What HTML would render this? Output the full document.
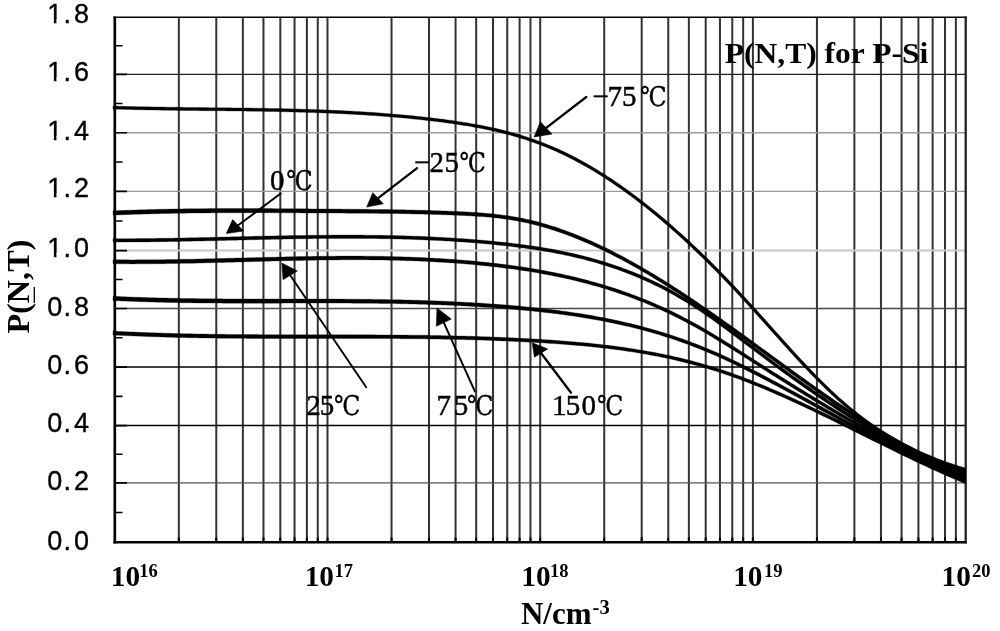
<!DOCTYPE html>
<html><head><meta charset="utf-8"><title>P(N,T) for P-Si</title>
<style>html,body{margin:0;padding:0;background:#fff;overflow:hidden}svg{display:block}</style>
</head><body>
<svg width="1000" height="631" viewBox="0 0 1000 631">
<rect width="1000" height="631" fill="#fff"/>
<path d="M178.83,17.2V542.2M216.28,17.2V542.2M242.86,17.2V542.2M263.47,17.2V542.2M280.31,17.2V542.2M294.55,17.2V542.2M306.89,17.2V542.2M317.77,17.2V542.2M391.53,17.2V542.2M428.98,17.2V542.2M455.56,17.2V542.2M476.17,17.2V542.2M493.01,17.2V542.2M507.25,17.2V542.2M519.59,17.2V542.2M530.47,17.2V542.2M604.23,17.2V542.2M641.68,17.2V542.2M668.26,17.2V542.2M688.87,17.2V542.2M705.71,17.2V542.2M719.95,17.2V542.2M732.29,17.2V542.2M743.17,17.2V542.2M816.93,17.2V542.2M854.38,17.2V542.2M880.96,17.2V542.2M901.57,17.2V542.2M918.41,17.2V542.2M932.65,17.2V542.2M944.99,17.2V542.2M955.87,17.2V542.2M327.50,17.2V542.2M540.20,17.2V542.2M752.90,17.2V542.2" stroke="#333" stroke-width="2.0" fill="none"/>
<path d="M178.83,537.6V542.2M216.28,537.6V542.2M242.86,537.6V542.2M263.47,537.6V542.2M280.31,537.6V542.2M294.55,537.6V542.2M306.89,537.6V542.2M317.77,537.6V542.2M391.53,537.6V542.2M428.98,537.6V542.2M455.56,537.6V542.2M476.17,537.6V542.2M493.01,537.6V542.2M507.25,537.6V542.2M519.59,537.6V542.2M530.47,537.6V542.2M604.23,537.6V542.2M641.68,537.6V542.2M668.26,537.6V542.2M688.87,537.6V542.2M705.71,537.6V542.2M719.95,537.6V542.2M732.29,537.6V542.2M743.17,537.6V542.2M816.93,537.6V542.2M854.38,537.6V542.2M880.96,537.6V542.2M901.57,537.6V542.2M918.41,537.6V542.2M932.65,537.6V542.2M944.99,537.6V542.2M955.87,537.6V542.2M327.50,537.6V542.2M540.20,537.6V542.2M752.90,537.6V542.2" stroke="#000" stroke-width="2.0" fill="none"/>
<path d="M114.8,74.40H965.7" stroke="#222" stroke-width="1.3"/>
<path d="M114.8,132.70H965.7" stroke="#999" stroke-width="1.4"/>
<path d="M114.8,191.40H965.7" stroke="#999" stroke-width="1.4"/>
<path d="M114.8,250.60H965.7" stroke="#c8c8c8" stroke-width="2.0"/>
<path d="M114.8,308.50H965.7" stroke="#4a4a4a" stroke-width="1.4"/>
<path d="M114.8,367.10H965.7" stroke="#000" stroke-width="1.5"/>
<path d="M114.8,425.60H965.7" stroke="#000" stroke-width="1.5"/>
<path d="M114.8,482.90H965.7" stroke="#555" stroke-width="1.4"/>
<path d="M114.8,512.55H122.5M114.8,482.90H127.0M114.8,454.25H122.5M114.8,425.60H127.0M114.8,396.35H122.5M114.8,367.10H127.0M114.8,337.80H122.5M114.8,308.50H127.0M114.8,279.55H122.5M114.8,250.60H127.0M114.8,221.00H122.5M114.8,191.40H127.0M114.8,162.05H122.5M114.8,132.70H127.0M114.8,103.55H122.5M114.8,74.40H127.0M114.8,45.80H122.5" stroke="#000" stroke-width="1.6" fill="none"/>
<path d="M113.4,17.2H966.9" stroke="#000" stroke-width="1.5"/>
<path d="M113.4,542.2H966.9" stroke="#000" stroke-width="2.6"/>
<path d="M114.8,16.4V543.5" stroke="#000" stroke-width="2.7"/>
<path d="M965.7,16.4V543.5" stroke="#222" stroke-width="2.3"/>
<path d="M112.95,109.11L115.95,109.20L118.96,109.29L121.96,109.37L124.96,109.45L127.96,109.53L130.96,109.60L133.97,109.67L136.97,109.73L139.97,109.80L142.97,109.86L145.97,109.91L148.97,109.97L151.97,110.02L154.97,110.07L157.98,110.12L160.98,110.17L163.98,110.21L166.98,110.25L169.98,110.30L172.98,110.33L175.98,110.37L178.98,110.41L181.98,110.44L184.98,110.48L187.98,110.51L190.98,110.54L193.98,110.57L196.98,110.61L199.98,110.64L202.98,110.67L205.98,110.70L208.98,110.72L211.98,110.75L214.98,110.78L217.98,110.81L220.98,110.84L223.98,110.87L226.98,110.90L229.98,110.94L232.98,110.97L235.98,111.00L238.98,111.04L241.98,111.07L244.98,111.11L247.98,111.15L250.98,111.19L253.98,111.23L256.98,111.27L259.98,111.32L262.98,111.36L265.97,111.41L268.97,111.47L271.97,111.52L274.97,111.58L277.97,111.64L280.97,111.70L283.97,111.76L286.96,111.83L289.96,111.90L292.96,111.97L295.96,112.05L298.96,112.13L301.96,112.22L304.95,112.30L307.95,112.39L310.95,112.49L313.95,112.59L316.95,112.69L319.94,112.80L322.94,112.91L325.94,113.03L328.94,113.15L331.93,113.28L334.93,113.41L337.93,113.54L340.93,113.69L343.92,113.83L346.92,113.98L349.92,114.14L352.92,114.30L355.91,114.47L358.91,114.65L361.91,114.83L364.90,115.01L367.90,115.20L370.90,115.40L373.89,115.61L376.89,115.82L379.89,116.04L382.88,116.26L385.88,116.50L388.88,116.73L391.87,116.98L394.87,117.23L397.87,117.49L400.86,117.76L403.86,118.04L406.85,118.32L409.85,118.61L412.85,118.91L415.84,119.22L418.84,119.53L421.83,119.86L424.83,120.19L427.83,120.53L430.82,120.88L433.82,121.24L436.81,121.61L439.81,121.98L442.80,122.37L445.80,122.76L448.79,123.17L451.79,123.58L454.78,124.01L457.77,124.46L460.77,124.91L463.76,125.39L466.75,125.87L469.74,126.37L472.74,126.89L475.73,127.43L478.72,127.99L481.71,128.57L484.70,129.16L487.69,129.78L490.68,130.42L493.67,131.08L496.66,131.76L499.64,132.47L502.63,133.21L505.62,133.97L508.61,134.75L511.60,135.57L514.58,136.41L517.57,137.28L520.56,138.18L523.54,139.11L526.53,140.07L529.51,141.07L532.50,142.09L535.49,143.16L538.47,144.25L541.46,145.38L544.44,146.55L547.43,147.75L550.41,148.99L553.40,150.27L556.38,151.59L559.37,152.95L562.35,154.34L565.34,155.78L568.33,157.25L571.31,158.75L574.30,160.30L577.29,161.88L580.28,163.49L583.26,165.15L586.25,166.84L589.24,168.56L592.23,170.32L595.22,172.12L598.21,173.95L601.20,175.82L604.19,177.72L607.18,179.66L610.17,181.62L613.16,183.63L616.15,185.67L619.14,187.74L622.13,189.84L625.12,191.98L628.11,194.15L631.11,196.35L634.10,198.58L637.09,200.85L640.08,203.15L643.07,205.48L646.07,207.84L649.06,210.23L652.05,212.65L655.05,215.11L658.04,217.59L661.03,220.10L664.03,222.65L667.02,225.22L670.01,227.82L673.01,230.46L676.00,233.12L678.99,235.81L681.99,238.52L684.98,241.27L687.98,244.04L690.97,246.84L693.97,249.67L696.96,252.53L699.96,255.41L702.95,258.32L705.95,261.26L708.94,264.22L711.94,267.21L714.93,270.22L717.93,273.26L720.93,276.33L723.92,279.42L726.92,282.53L729.91,285.67L732.91,288.83L735.91,292.02L738.90,295.23L741.90,298.47L744.89,301.72L747.89,305.00L750.89,308.30L753.89,311.61L756.89,314.94L759.88,318.27L762.88,321.62L765.88,324.97L768.88,328.32L771.88,331.67L774.88,335.02L777.88,338.37L780.89,341.71L783.89,345.04L786.89,348.35L789.89,351.66L792.89,354.94L795.90,358.21L798.90,361.45L801.91,364.67L804.91,367.86L807.92,371.02L810.92,374.15L813.93,377.25L816.93,380.30L819.94,383.32L822.95,386.29L825.96,389.22L828.97,392.10L831.98,394.93L834.99,397.71L838.00,400.43L841.01,403.10L844.02,405.71L847.04,408.26L850.05,410.75L853.06,413.18L856.08,415.56L859.09,417.89L862.10,420.16L865.12,422.38L868.13,424.55L871.15,426.66L874.16,428.72L877.17,430.74L880.19,432.70L883.20,434.62L886.22,436.49L889.23,438.31L892.25,440.08L895.26,441.81L898.28,443.50L901.29,445.14L904.30,446.74L907.32,448.29L910.33,449.81L913.35,451.28L916.36,452.72L919.38,454.11L922.39,455.47L925.41,456.79L928.42,458.07L931.43,459.32L934.45,460.53L937.46,461.71L940.47,462.85L943.49,463.96L946.50,465.04L949.51,466.09L952.53,467.11L955.54,468.10L958.55,469.05L961.56,469.99L964.57,470.89L965.08,471.04L965.92,468.16L965.43,468.01L962.44,467.12L959.45,466.19L956.46,465.24L953.47,464.26L950.49,463.25L947.50,462.21L944.51,461.14L941.53,460.04L938.54,458.91L935.55,457.74L932.57,456.54L929.58,455.31L926.59,454.03L923.61,452.73L920.62,451.38L917.64,450.00L914.65,448.58L911.67,447.12L908.68,445.62L905.70,444.08L902.71,442.50L899.72,440.87L896.74,439.20L893.75,437.49L890.77,435.73L887.78,433.93L884.80,432.08L881.81,430.18L878.83,428.23L875.84,426.24L872.85,424.20L869.87,422.10L866.88,419.95L863.90,417.76L860.91,415.51L857.92,413.20L854.94,410.84L851.95,408.43L848.96,405.96L845.98,403.43L842.99,400.84L840.00,398.20L837.01,395.50L834.02,392.74L831.03,389.93L828.04,387.06L825.05,384.15L822.06,381.19L819.07,378.19L816.07,375.15L813.08,372.07L810.08,368.95L807.09,365.80L804.09,362.62L801.10,359.41L798.10,356.17L795.11,352.92L792.11,349.64L789.11,346.34L786.11,343.03L783.11,339.70L780.12,336.36L777.12,333.02L774.12,329.67L771.12,326.32L768.12,322.96L765.12,319.61L762.12,316.27L759.11,312.93L756.11,309.60L753.11,306.28L750.11,302.98L747.11,299.70L744.10,296.43L741.10,293.19L738.09,289.97L735.09,286.77L732.09,283.60L729.08,280.46L726.08,277.33L723.07,274.23L720.07,271.16L717.07,268.11L714.06,265.09L711.06,262.09L708.05,259.12L705.05,256.18L702.04,253.26L699.04,250.36L696.03,247.50L693.03,244.66L690.02,241.85L687.02,239.06L684.01,236.31L681.01,233.58L678.00,230.88L674.99,228.21L671.99,225.57L668.98,222.95L665.97,220.37L662.97,217.81L659.96,215.29L656.95,212.79L653.95,210.33L650.94,207.89L647.93,205.49L644.93,203.12L641.92,200.77L638.91,198.46L635.90,196.18L632.89,193.94L629.89,191.72L626.88,189.54L623.87,187.39L620.86,185.27L617.85,183.19L614.84,181.14L611.83,179.12L608.82,177.14L605.81,175.19L602.80,173.27L599.79,171.39L596.78,169.55L593.77,167.74L590.76,165.96L587.75,164.22L584.74,162.52L581.72,160.85L578.71,159.22L575.70,157.62L572.69,156.07L569.67,154.54L566.66,153.06L563.65,151.61L560.63,150.21L557.62,148.84L554.60,147.50L551.59,146.21L548.57,144.96L545.56,143.74L542.54,142.56L539.53,141.42L536.51,140.31L533.50,139.24L530.49,138.20L527.47,137.20L524.46,136.22L521.44,135.28L518.43,134.37L515.42,133.50L512.40,132.65L509.39,131.82L506.38,131.03L503.37,130.26L500.36,129.52L497.34,128.81L494.33,128.12L491.32,127.45L488.31,126.81L485.30,126.19L482.29,125.58L479.28,125.00L476.27,124.44L473.26,123.90L470.26,123.38L467.25,122.87L464.24,122.38L461.23,121.91L458.23,121.45L455.22,121.00L452.21,120.57L449.21,120.15L446.20,119.74L443.20,119.35L440.19,118.96L437.19,118.58L434.18,118.21L431.18,117.85L428.17,117.50L425.17,117.16L422.17,116.83L419.16,116.50L416.16,116.18L413.15,115.87L410.15,115.57L407.15,115.28L404.14,115.00L401.14,114.72L398.13,114.45L395.13,114.19L392.13,113.93L389.12,113.69L386.12,113.45L383.12,113.21L380.11,112.99L377.11,112.77L374.11,112.55L371.10,112.35L368.10,112.15L365.10,111.96L362.09,111.77L359.09,111.59L356.09,111.41L353.08,111.24L350.08,111.08L347.08,110.92L344.08,110.77L341.07,110.62L338.07,110.48L335.07,110.34L332.07,110.21L329.06,110.08L326.06,109.96L323.06,109.84L320.06,109.73L317.05,109.62L314.05,109.52L311.05,109.42L308.05,109.32L305.05,109.23L302.04,109.14L299.04,109.05L296.04,108.97L293.04,108.89L290.04,108.82L287.04,108.75L284.03,108.68L281.03,108.62L278.03,108.55L275.03,108.49L272.03,108.44L269.03,108.38L266.03,108.33L263.02,108.28L260.02,108.23L257.02,108.19L254.02,108.14L251.02,108.10L248.02,108.06L245.02,108.02L242.02,107.98L239.02,107.95L236.02,107.91L233.02,107.88L230.02,107.84L227.02,107.81L224.02,107.78L221.02,107.75L218.02,107.72L215.02,107.69L212.02,107.66L209.02,107.63L206.02,107.60L203.02,107.57L200.02,107.54L197.02,107.51L194.02,107.48L191.02,107.44L188.02,107.41L185.02,107.38L182.02,107.34L179.02,107.31L176.02,107.27L173.02,107.23L170.02,107.20L167.02,107.15L164.02,107.11L161.02,107.07L158.02,107.02L155.03,106.97L152.03,106.92L149.03,106.87L146.03,106.82L143.03,106.76L140.03,106.70L137.03,106.63L134.03,106.57L131.04,106.50L128.04,106.43L125.04,106.35L122.04,106.27L119.04,106.19L116.05,106.11L113.05,106.02Z" fill="#000" stroke="#000" stroke-width="0.3" stroke-linejoin="round"/>
<path d="M113.09,215.15L116.09,215.02L119.09,214.90L122.08,214.78L125.08,214.67L128.08,214.56L131.07,214.45L134.07,214.35L137.07,214.25L140.07,214.16L143.06,214.07L146.06,213.98L149.06,213.90L152.06,213.82L155.05,213.74L158.05,213.67L161.05,213.60L164.05,213.53L167.04,213.47L170.04,213.41L173.04,213.35L176.04,213.30L179.04,213.25L182.03,213.20L185.03,213.16L188.03,213.12L191.03,213.08L194.03,213.04L197.02,213.01L200.02,212.98L203.02,212.94L206.02,212.92L209.02,212.89L212.01,212.86L215.01,212.84L218.01,212.82L221.01,212.80L224.01,212.79L227.01,212.77L230.01,212.76L233.00,212.75L236.00,212.74L239.00,212.73L242.00,212.73L245.00,212.73L248.00,212.72L251.00,212.72L254.00,212.72L257.00,212.73L259.99,212.73L262.99,212.74L265.99,212.74L268.99,212.75L271.99,212.76L274.99,212.77L277.99,212.78L280.99,212.79L283.99,212.80L286.99,212.81L289.99,212.83L292.99,212.84L295.99,212.86L298.99,212.87L301.99,212.89L304.99,212.90L307.99,212.92L310.99,212.94L313.99,212.95L316.99,212.97L319.99,212.99L322.99,213.00L325.99,213.02L328.99,213.04L331.99,213.05L334.99,213.07L337.99,213.09L340.99,213.10L343.99,213.12L346.99,213.14L349.99,213.16L352.99,213.18L355.98,213.20L358.98,213.22L361.98,213.24L364.98,213.26L367.98,213.28L370.98,213.31L373.98,213.34L376.98,213.36L379.98,213.40L382.98,213.43L385.97,213.46L388.97,213.50L391.97,213.54L394.97,213.58L397.97,213.62L400.97,213.67L403.96,213.72L406.96,213.77L409.96,213.83L412.96,213.89L415.96,213.95L418.95,214.02L421.95,214.09L424.95,214.16L427.95,214.24L430.95,214.32L433.94,214.40L436.94,214.49L439.94,214.59L442.93,214.69L445.93,214.79L448.93,214.90L451.93,215.01L454.92,215.13L457.92,215.25L460.91,215.39L463.91,215.52L466.90,215.67L469.90,215.83L472.89,216.00L475.88,216.19L478.87,216.39L481.86,216.61L484.85,216.84L487.84,217.10L490.82,217.37L493.81,217.67L496.79,218.00L499.78,218.35L502.76,218.72L505.75,219.13L508.73,219.56L511.71,220.02L514.69,220.52L517.67,221.06L520.65,221.62L523.63,222.23L526.61,222.87L529.59,223.54L532.58,224.26L535.56,225.00L538.54,225.78L541.52,226.60L544.51,227.45L547.49,228.33L550.47,229.25L553.46,230.20L556.44,231.18L559.43,232.19L562.41,233.23L565.40,234.31L568.39,235.41L571.37,236.55L574.36,237.71L577.35,238.91L580.34,240.13L583.33,241.39L586.32,242.67L589.30,243.97L592.29,245.31L595.28,246.67L598.27,248.06L601.26,249.47L604.26,250.91L607.25,252.38L610.24,253.87L613.23,255.38L616.22,256.92L619.21,258.49L622.21,260.07L625.20,261.68L628.19,263.31L631.19,264.96L634.18,266.64L637.18,268.33L640.17,270.05L643.16,271.78L646.16,273.54L649.15,275.31L652.15,277.11L655.14,278.93L658.14,280.76L661.13,282.61L664.12,284.48L667.12,286.37L670.11,288.27L673.11,290.19L676.10,292.12L679.10,294.07L682.09,296.03L685.09,298.01L688.08,300.01L691.08,302.01L694.08,304.03L697.07,306.06L700.07,308.11L703.06,310.16L706.06,312.23L709.06,314.31L712.05,316.40L715.05,318.50L718.05,320.61L721.05,322.73L724.04,324.85L727.04,326.99L730.04,329.13L733.04,331.28L736.04,333.43L739.03,335.59L742.03,337.76L745.03,339.93L748.03,342.10L751.03,344.28L754.03,346.46L757.03,348.64L760.03,350.83L763.03,353.01L766.03,355.20L769.03,357.38L772.03,359.57L775.03,361.76L778.03,363.94L781.03,366.12L784.03,368.30L787.03,370.48L790.03,372.65L793.03,374.82L796.04,376.99L799.04,379.15L802.04,381.30L805.04,383.45L808.04,385.59L811.05,387.72L814.05,389.85L817.05,391.96L820.05,394.07L823.06,396.17L826.06,398.26L829.06,400.33L832.07,402.40L835.07,404.45L838.07,406.50L841.08,408.53L844.08,410.54L847.09,412.54L850.09,414.53L853.10,416.50L856.10,418.46L859.11,420.40L862.11,422.33L865.12,424.23L868.12,426.12L871.13,428.00L874.14,429.85L877.14,431.68L880.15,433.50L883.16,435.29L886.17,437.06L889.17,438.81L892.18,440.54L895.19,442.25L898.20,443.93L901.21,445.59L904.22,447.22L907.23,448.83L910.24,450.42L913.25,451.98L916.26,453.51L919.27,455.02L922.28,456.50L925.29,457.95L928.30,459.37L931.31,460.76L934.33,462.12L937.34,463.45L940.35,464.76L943.37,466.03L946.38,467.26L949.39,468.47L952.41,469.64L955.42,470.78L958.44,471.89L961.46,472.96L964.47,473.99L964.98,474.16L966.02,471.03L965.53,470.87L962.54,469.84L959.56,468.78L956.58,467.69L953.59,466.56L950.61,465.40L947.62,464.21L944.63,462.98L941.65,461.72L938.66,460.43L935.67,459.11L932.69,457.76L929.70,456.38L926.71,454.97L923.72,453.53L920.73,452.06L917.74,450.57L914.75,449.04L911.76,447.49L908.77,445.92L905.78,444.32L902.79,442.69L899.80,441.05L896.81,439.37L893.82,437.68L890.83,435.96L887.83,434.21L884.84,432.45L881.85,430.67L878.86,428.86L875.86,427.04L872.87,425.19L869.88,423.33L866.88,421.44L863.89,419.54L860.89,417.63L857.90,415.69L854.90,413.74L851.91,411.78L848.91,409.79L845.92,407.80L842.92,405.79L839.93,403.76L836.93,401.73L833.93,399.68L830.94,397.62L827.94,395.54L824.94,393.46L821.95,391.37L818.95,389.26L815.95,387.15L812.95,385.03L809.96,382.90L806.96,380.76L803.96,378.62L800.96,376.47L797.96,374.31L794.97,372.15L791.97,369.98L788.97,367.81L785.97,365.63L782.97,363.45L779.97,361.27L776.97,359.09L773.97,356.90L770.97,354.72L767.97,352.53L764.97,350.34L761.97,348.16L758.97,345.97L755.97,343.79L752.97,341.61L749.97,339.43L746.97,337.25L743.97,335.08L740.97,332.92L737.96,330.75L734.96,328.60L731.96,326.45L728.96,324.30L725.96,322.16L722.95,320.03L719.95,317.91L716.95,315.80L713.95,313.70L710.94,311.60L707.94,309.52L704.94,307.45L701.93,305.38L698.93,303.33L695.92,301.30L692.92,299.27L689.92,297.26L686.91,295.26L683.91,293.28L680.90,291.31L677.90,289.35L674.89,287.41L671.89,285.49L668.88,283.58L665.88,281.68L662.87,279.81L659.86,277.95L656.86,276.11L653.85,274.28L650.85,272.48L647.84,270.69L644.84,268.92L641.83,267.17L638.82,265.44L635.82,263.73L632.81,262.04L629.81,260.38L626.80,258.73L623.79,257.11L620.79,255.51L617.78,253.93L614.77,252.38L611.76,250.84L608.75,249.34L605.74,247.86L602.74,246.40L599.73,244.97L596.72,243.57L593.71,242.19L590.70,240.83L587.68,239.51L584.67,238.21L581.66,236.94L578.65,235.70L575.64,234.49L572.63,233.31L569.61,232.16L566.60,231.03L563.59,229.94L560.57,228.88L557.56,227.85L554.54,226.85L551.53,225.89L548.51,224.96L545.49,224.06L542.48,223.19L539.46,222.36L536.44,221.56L533.42,220.80L530.41,220.07L527.39,219.38L524.37,218.72L521.35,218.10L518.33,217.52L515.31,216.98L512.29,216.47L509.27,215.99L506.25,215.54L503.24,215.13L500.22,214.74L497.21,214.38L494.19,214.05L491.18,213.74L488.16,213.45L485.15,213.19L482.14,212.94L479.13,212.72L476.12,212.51L473.11,212.32L470.10,212.14L467.10,211.97L464.09,211.82L461.09,211.67L458.08,211.53L455.08,211.40L452.07,211.28L449.07,211.16L446.07,211.04L443.07,210.93L440.06,210.82L437.06,210.72L434.06,210.63L431.05,210.53L428.05,210.45L425.05,210.36L422.05,210.28L419.05,210.20L416.04,210.13L413.04,210.06L410.04,210.00L407.04,209.93L404.04,209.87L401.03,209.82L398.03,209.76L395.03,209.71L392.03,209.66L389.03,209.62L386.03,209.58L383.02,209.53L380.02,209.50L377.02,209.46L374.02,209.42L371.02,209.39L368.02,209.36L365.02,209.33L362.02,209.30L359.02,209.27L356.02,209.24L353.01,209.22L350.01,209.19L347.01,209.17L344.01,209.14L341.01,209.12L338.01,209.09L335.01,209.07L332.01,209.05L329.01,209.02L326.01,209.00L323.01,208.98L320.01,208.95L317.01,208.93L314.01,208.91L311.01,208.88L308.01,208.86L305.01,208.84L302.01,208.81L299.01,208.79L296.01,208.77L293.01,208.75L290.01,208.73L287.01,208.71L284.01,208.69L281.01,208.67L278.01,208.65L275.01,208.63L272.01,208.62L269.01,208.60L266.01,208.59L263.01,208.58L260.01,208.56L257.00,208.55L254.00,208.54L251.00,208.54L248.00,208.53L245.00,208.53L242.00,208.52L239.00,208.52L236.00,208.52L233.00,208.52L229.99,208.53L226.99,208.53L223.99,208.54L220.99,208.55L217.99,208.56L214.99,208.57L211.99,208.59L208.98,208.61L205.98,208.63L202.98,208.65L199.98,208.68L196.98,208.71L193.97,208.74L190.97,208.78L187.97,208.82L184.97,208.86L181.97,208.90L178.96,208.95L175.96,209.00L172.96,209.05L169.96,209.11L166.96,209.17L163.95,209.23L160.95,209.30L157.95,209.37L154.95,209.44L151.94,209.52L148.94,209.60L145.94,209.68L142.94,209.77L139.93,209.86L136.93,209.95L133.93,210.05L130.93,210.15L127.92,210.26L124.92,210.37L121.92,210.48L118.91,210.60L115.91,210.72L112.91,210.85Z" fill="#000" stroke="#000" stroke-width="0.3" stroke-linejoin="round"/>
<path d="M113.00,242.10L116.00,242.11L119.00,242.10L122.00,242.10L125.01,242.09L128.01,242.07L131.01,242.06L134.01,242.04L137.01,242.01L140.02,241.99L143.02,241.96L146.02,241.93L149.02,241.89L152.02,241.86L155.02,241.82L158.02,241.77L161.03,241.73L164.03,241.68L167.03,241.64L170.03,241.59L173.03,241.53L176.03,241.48L179.03,241.42L182.03,241.36L185.03,241.31L188.03,241.24L191.04,241.18L194.04,241.12L197.04,241.06L200.04,240.99L203.04,240.92L206.04,240.85L209.04,240.79L212.04,240.72L215.04,240.65L218.04,240.57L221.04,240.50L224.04,240.43L227.04,240.36L230.04,240.29L233.04,240.22L236.04,240.14L239.04,240.07L242.04,240.00L245.04,239.93L248.04,239.86L251.04,239.79L254.04,239.72L257.04,239.65L260.04,239.58L263.04,239.52L266.04,239.45L269.04,239.39L272.03,239.32L275.03,239.26L278.03,239.20L281.03,239.14L284.03,239.08L287.03,239.03L290.03,238.97L293.03,238.92L296.03,238.87L299.03,238.82L302.02,238.77L305.02,238.73L308.02,238.69L311.02,238.65L314.02,238.61L317.02,238.58L320.02,238.55L323.01,238.52L326.01,238.49L329.01,238.47L332.01,238.45L335.01,238.43L338.01,238.42L341.00,238.41L344.00,238.40L347.00,238.40L350.00,238.40L353.00,238.41L355.99,238.41L358.99,238.43L361.99,238.44L364.99,238.46L367.98,238.49L370.98,238.52L373.98,238.55L376.98,238.59L379.97,238.63L382.97,238.68L385.97,238.73L388.97,238.79L391.96,238.85L394.96,238.92L397.96,238.99L400.96,239.07L403.95,239.15L406.95,239.24L409.95,239.34L412.94,239.44L415.94,239.54L418.94,239.65L421.93,239.77L424.93,239.90L427.93,240.02L430.92,240.16L433.92,240.30L436.92,240.45L439.91,240.61L442.91,240.77L445.91,240.94L448.90,241.11L451.90,241.29L454.89,241.48L457.89,241.68L460.89,241.88L463.88,242.09L466.88,242.31L469.87,242.54L472.87,242.77L475.87,243.01L478.86,243.26L481.86,243.52L484.85,243.78L487.85,244.05L490.84,244.33L493.84,244.62L496.84,244.92L499.83,245.23L502.83,245.54L505.82,245.87L508.82,246.20L511.81,246.55L514.80,246.91L517.80,247.28L520.79,247.66L523.78,248.05L526.78,248.46L529.77,248.88L532.76,249.32L535.75,249.77L538.75,250.24L541.74,250.72L544.73,251.21L547.72,251.73L550.71,252.26L553.70,252.81L556.69,253.38L559.68,253.96L562.67,254.57L565.66,255.19L568.65,255.84L571.64,256.50L574.63,257.19L577.62,257.89L580.61,258.62L583.60,259.37L586.59,260.15L589.58,260.95L592.57,261.77L595.55,262.61L598.54,263.49L601.53,264.38L604.52,265.30L607.51,266.25L610.49,267.23L613.48,268.23L616.47,269.26L619.46,270.32L622.44,271.41L625.43,272.52L628.42,273.67L631.41,274.84L634.39,276.05L637.38,277.29L640.37,278.56L643.35,279.86L646.34,281.19L649.33,282.56L652.31,283.96L655.30,285.40L658.29,286.87L661.27,288.37L664.26,289.91L667.25,291.49L670.23,293.10L673.22,294.76L676.21,296.44L679.19,298.17L682.18,299.93L685.17,301.74L688.15,303.58L691.14,305.46L694.13,307.38L697.12,309.34L700.11,311.33L703.10,313.35L706.09,315.40L709.08,317.49L712.07,319.59L715.07,321.73L718.06,323.88L721.06,326.06L724.05,328.25L727.05,330.46L730.04,332.69L733.04,334.93L736.04,337.18L739.04,339.44L742.03,341.70L745.03,343.97L748.03,346.25L751.03,348.52L754.03,350.80L757.04,353.07L760.04,355.33L763.04,357.59L766.04,359.85L769.04,362.09L772.05,364.32L775.05,366.54L778.05,368.75L781.06,370.95L784.06,373.14L787.06,375.32L790.07,377.49L793.07,379.64L796.07,381.79L799.08,383.92L802.08,386.04L805.08,388.15L808.09,390.24L811.09,392.33L814.09,394.40L817.10,396.45L820.10,398.50L823.11,400.53L826.11,402.54L829.11,404.54L832.12,406.53L835.12,408.51L838.13,410.47L841.13,412.41L844.14,414.34L847.14,416.25L850.15,418.15L853.15,420.04L856.16,421.90L859.16,423.75L862.17,425.59L865.18,427.40L868.18,429.20L871.19,430.99L874.19,432.75L877.20,434.50L880.21,436.23L883.21,437.94L886.22,439.63L889.23,441.30L892.23,442.95L895.24,444.59L898.25,446.20L901.25,447.79L904.26,449.37L907.27,450.92L910.28,452.45L913.29,453.96L916.29,455.45L919.30,456.92L922.31,458.37L925.32,459.79L928.33,461.19L931.34,462.57L934.35,463.92L937.36,465.25L940.37,466.56L943.38,467.85L946.39,469.11L949.40,470.34L952.41,471.56L955.42,472.74L958.43,473.90L961.44,475.04L964.45,476.15L964.95,476.33L966.05,473.32L965.55,473.14L962.56,472.04L959.57,470.91L956.58,469.76L953.59,468.58L950.60,467.38L947.61,466.15L944.62,464.90L941.63,463.62L938.64,462.32L935.65,461.00L932.66,459.65L929.67,458.28L926.68,456.89L923.69,455.48L920.70,454.04L917.71,452.58L914.71,451.10L911.72,449.60L908.73,448.07L905.74,446.53L902.75,444.96L899.75,443.38L896.76,441.77L893.77,440.14L890.77,438.50L887.78,436.83L884.79,435.15L881.79,433.45L878.80,431.73L875.81,429.99L872.81,428.23L869.82,426.45L866.82,424.66L863.83,422.85L860.84,421.02L857.84,419.18L854.85,417.32L851.85,415.44L848.86,413.55L845.86,411.64L842.87,409.72L839.87,407.78L836.88,405.83L833.88,403.86L830.89,401.88L827.89,399.88L824.89,397.87L821.90,395.85L818.90,393.81L815.91,391.76L812.91,389.69L809.91,387.62L806.92,385.52L803.92,383.42L800.92,381.31L797.93,379.18L794.93,377.04L791.93,374.89L788.94,372.73L785.94,370.55L782.94,368.37L779.95,366.17L776.95,363.96L773.95,361.75L770.96,359.52L767.96,357.28L764.96,355.04L761.96,352.78L758.96,350.51L755.97,348.25L752.97,345.97L749.97,343.70L746.97,341.42L743.97,339.15L740.96,336.88L737.96,334.62L734.96,332.37L731.96,330.12L728.95,327.89L725.95,325.67L722.94,323.47L719.94,321.29L716.93,319.12L713.93,316.98L710.92,314.86L707.91,312.77L704.90,310.71L701.89,308.67L698.88,306.67L695.87,304.70L692.86,302.76L689.85,300.86L686.83,299.00L683.82,297.18L680.81,295.41L677.79,293.66L674.78,291.96L671.77,290.30L668.75,288.67L665.74,287.08L662.73,285.52L659.71,284.00L656.70,282.52L653.69,281.07L650.67,279.66L647.66,278.28L644.65,276.93L641.63,275.62L638.62,274.33L635.61,273.08L632.59,271.86L629.58,270.68L626.57,269.52L623.56,268.39L620.54,267.29L617.53,266.23L614.52,265.19L611.51,264.17L608.49,263.19L605.48,262.23L602.47,261.30L599.46,260.40L596.45,259.52L593.43,258.66L590.42,257.83L587.41,257.03L584.40,256.25L581.39,255.49L578.38,254.75L575.37,254.04L572.36,253.35L569.35,252.67L566.34,252.02L563.33,251.39L560.32,250.78L557.31,250.19L554.30,249.62L551.29,249.07L548.28,248.53L545.27,248.01L542.26,247.51L539.25,247.03L536.25,246.56L533.24,246.10L530.23,245.66L527.22,245.24L524.22,244.83L521.21,244.43L518.20,244.04L515.20,243.67L512.19,243.31L509.18,242.96L506.18,242.62L503.17,242.29L500.17,241.98L497.16,241.67L494.16,241.37L491.16,241.08L488.15,240.80L485.15,240.52L482.14,240.25L479.14,240.00L476.13,239.75L473.13,239.50L470.13,239.27L467.12,239.04L464.12,238.82L461.11,238.61L458.11,238.40L455.11,238.20L452.10,238.01L449.10,237.83L446.09,237.65L443.09,237.48L440.09,237.32L437.08,237.16L434.08,237.01L431.08,236.87L428.07,236.73L425.07,236.60L422.07,236.47L419.06,236.35L416.06,236.24L413.06,236.13L410.05,236.03L407.05,235.94L404.05,235.85L401.04,235.76L398.04,235.68L395.04,235.61L392.04,235.54L389.03,235.48L386.03,235.42L383.03,235.36L380.03,235.31L377.02,235.27L374.02,235.23L371.02,235.19L368.02,235.16L365.01,235.14L362.01,235.12L359.01,235.10L356.01,235.08L353.00,235.07L350.00,235.07L347.00,235.07L344.00,235.07L341.00,235.07L337.99,235.08L334.99,235.09L331.99,235.11L328.99,235.13L325.99,235.15L322.99,235.17L319.98,235.20L316.98,235.23L313.98,235.26L310.98,235.30L307.98,235.34L304.98,235.38L301.98,235.42L298.97,235.46L295.97,235.51L292.97,235.56L289.97,235.61L286.97,235.67L283.97,235.72L280.97,235.78L277.97,235.83L274.97,235.89L271.97,235.96L268.96,236.02L265.96,236.08L262.96,236.15L259.96,236.21L256.96,236.28L253.96,236.35L250.96,236.41L247.96,236.48L244.96,236.55L241.96,236.62L238.96,236.69L235.96,236.76L232.96,236.83L229.96,236.90L226.96,236.97L223.96,237.04L220.96,237.11L217.96,237.18L214.96,237.25L211.96,237.32L208.96,237.39L205.96,237.46L202.96,237.52L199.96,237.59L196.96,237.66L193.96,237.72L190.96,237.78L187.97,237.85L184.97,237.91L181.97,237.97L178.97,238.02L175.97,238.08L172.97,238.13L169.97,238.19L166.97,238.24L163.97,238.28L160.97,238.33L157.98,238.37L154.98,238.42L151.98,238.46L148.98,238.49L145.98,238.53L142.98,238.56L139.98,238.59L136.99,238.61L133.99,238.64L130.99,238.66L127.99,238.67L124.99,238.69L122.00,238.70L119.00,238.70L116.00,238.71L113.00,238.70Z" fill="#000" stroke="#000" stroke-width="0.3" stroke-linejoin="round"/>
<path d="M112.98,263.78L115.98,263.81L118.99,263.83L121.99,263.85L124.99,263.86L128.00,263.87L131.00,263.88L134.00,263.88L137.00,263.87L140.01,263.86L143.01,263.85L146.01,263.84L149.01,263.82L152.02,263.79L155.02,263.76L158.02,263.73L161.02,263.70L164.03,263.66L167.03,263.62L170.03,263.57L173.03,263.53L176.03,263.48L179.04,263.43L182.04,263.37L185.04,263.31L188.04,263.25L191.04,263.19L194.04,263.13L197.04,263.06L200.05,263.00L203.05,262.92L206.05,262.85L209.05,262.77L212.05,262.70L215.05,262.62L218.05,262.54L221.05,262.46L224.05,262.38L227.05,262.30L230.05,262.22L233.05,262.14L236.05,262.05L239.05,261.97L242.05,261.89L245.05,261.81L248.05,261.72L251.05,261.64L254.05,261.56L257.05,261.47L260.05,261.39L263.05,261.31L266.05,261.23L269.05,261.15L272.05,261.08L275.05,261.00L278.05,260.92L281.05,260.85L284.04,260.78L287.04,260.71L290.04,260.64L293.04,260.57L296.04,260.51L299.04,260.44L302.04,260.38L305.03,260.33L308.03,260.27L311.03,260.22L314.03,260.17L317.03,260.12L320.03,260.07L323.02,260.03L326.02,260.00L329.02,259.96L332.02,259.93L335.01,259.90L338.01,259.88L341.01,259.86L344.01,259.84L347.00,259.83L350.00,259.82L353.00,259.82L356.00,259.82L358.99,259.82L361.99,259.83L364.99,259.85L367.98,259.87L370.98,259.89L373.98,259.92L376.98,259.96L379.97,260.00L382.97,260.05L385.96,260.10L388.96,260.15L391.96,260.22L394.95,260.29L397.95,260.36L400.95,260.44L403.94,260.53L406.94,260.63L409.94,260.73L412.93,260.83L415.93,260.95L418.92,261.07L421.92,261.20L424.91,261.34L427.91,261.48L430.91,261.63L433.90,261.79L436.90,261.95L439.89,262.13L442.89,262.31L445.88,262.50L448.88,262.69L451.87,262.90L454.87,263.11L457.86,263.34L460.86,263.57L463.85,263.81L466.85,264.06L469.84,264.32L472.84,264.58L475.83,264.86L478.83,265.14L481.82,265.44L484.82,265.74L487.81,266.06L490.81,266.38L493.80,266.72L496.80,267.06L499.79,267.41L502.79,267.78L505.78,268.16L508.77,268.54L511.77,268.94L514.76,269.35L517.75,269.78L520.75,270.21L523.74,270.66L526.73,271.12L529.73,271.59L532.72,272.08L535.71,272.58L538.71,273.10L541.70,273.63L544.69,274.18L547.68,274.74L550.68,275.31L553.67,275.90L556.66,276.51L559.65,277.13L562.64,277.77L565.64,278.43L568.63,279.10L571.62,279.79L574.61,280.50L577.60,281.23L580.59,281.97L583.58,282.74L586.58,283.52L589.57,284.32L592.56,285.14L595.55,285.98L598.54,286.84L601.53,287.72L604.52,288.62L607.51,289.54L610.50,290.48L613.49,291.45L616.48,292.43L619.47,293.44L622.46,294.47L625.46,295.52L628.45,296.60L631.44,297.70L634.43,298.82L637.42,299.96L640.41,301.13L643.40,302.33L646.39,303.55L649.38,304.79L652.37,306.06L655.36,307.36L658.35,308.68L661.34,310.03L664.33,311.40L667.32,312.80L670.30,314.23L673.29,315.69L676.28,317.17L679.27,318.68L682.26,320.22L685.25,321.79L688.24,323.38L691.23,325.01L694.22,326.66L697.21,328.34L700.20,330.04L703.20,331.77L706.19,333.52L709.18,335.29L712.18,337.08L715.17,338.89L718.16,340.71L721.16,342.55L724.16,344.41L727.15,346.27L730.15,348.15L733.15,350.04L736.14,351.94L739.14,353.84L742.14,355.75L745.14,357.67L748.14,359.59L751.14,361.51L754.14,363.43L757.14,365.35L760.14,367.27L763.14,369.19L766.14,371.10L769.14,373.00L772.15,374.90L775.15,376.79L778.15,378.68L781.15,380.56L784.15,382.44L787.15,384.31L790.16,386.17L793.16,388.03L796.16,389.89L799.16,391.74L802.16,393.58L805.17,395.42L808.17,397.25L811.17,399.08L814.17,400.90L817.17,402.71L820.17,404.52L823.18,406.33L826.18,408.13L829.18,409.92L832.18,411.71L835.18,413.49L838.19,415.27L841.19,417.04L844.19,418.80L847.19,420.56L850.19,422.32L853.20,424.06L856.20,425.80L859.20,427.53L862.21,429.25L865.21,430.96L868.21,432.66L871.22,434.35L874.22,436.02L877.23,437.69L880.23,439.34L883.24,440.98L886.24,442.60L889.25,444.21L892.25,445.81L895.26,447.39L898.26,448.95L901.27,450.50L904.28,452.03L907.28,453.54L910.29,455.04L913.30,456.51L916.31,457.96L919.32,459.40L922.32,460.81L925.33,462.20L928.34,463.57L931.35,464.92L934.36,466.25L937.37,467.55L940.38,468.82L943.39,470.07L946.40,471.30L949.41,472.50L952.43,473.67L955.44,474.82L958.45,475.93L961.46,477.02L964.48,478.08L964.98,478.26L966.02,475.23L965.52,475.06L962.54,474.01L959.55,472.93L956.56,471.82L953.57,470.68L950.59,469.52L947.60,468.33L944.61,467.11L941.62,465.87L938.63,464.60L935.64,463.31L932.65,462.00L929.66,460.66L926.67,459.30L923.68,457.91L920.68,456.51L917.69,455.08L914.70,453.63L911.71,452.17L908.72,450.68L905.72,449.18L902.73,447.65L899.74,446.11L896.74,444.55L893.75,442.98L890.75,441.39L887.76,439.79L884.76,438.17L881.77,436.53L878.77,434.89L875.78,433.23L872.78,431.55L869.79,429.87L866.79,428.18L863.79,426.47L860.80,424.75L857.80,423.03L854.80,421.29L851.81,419.55L848.81,417.80L845.81,416.05L842.81,414.28L839.81,412.51L836.82,410.74L833.82,408.96L830.82,407.17L827.82,405.38L824.82,403.58L821.83,401.78L818.83,399.97L815.83,398.16L812.83,396.34L809.83,394.52L806.83,392.69L803.84,390.85L800.84,389.01L797.84,387.16L794.84,385.31L791.84,383.45L788.85,381.59L785.85,379.72L782.85,377.85L779.85,375.97L776.85,374.08L773.85,372.19L770.86,370.30L767.86,368.39L764.86,366.49L761.86,364.57L758.86,362.66L755.86,360.74L752.86,358.82L749.86,356.89L746.86,354.97L743.86,353.06L740.86,351.14L737.86,349.24L734.85,347.34L731.85,345.44L728.85,343.56L725.84,341.69L722.84,339.83L719.84,337.98L716.83,336.15L713.82,334.33L710.82,332.54L707.81,330.76L704.80,329.00L701.80,327.26L698.79,325.55L695.78,323.86L692.77,322.20L689.76,320.56L686.75,318.96L683.74,317.38L680.73,315.83L677.72,314.31L674.71,312.81L671.70,311.35L668.68,309.91L665.67,308.50L662.66,307.12L659.65,305.76L656.64,304.43L653.63,303.12L650.62,301.84L647.61,300.58L644.60,299.35L641.59,298.14L638.58,296.96L635.57,295.80L632.56,294.67L629.55,293.56L626.54,292.47L623.54,291.40L620.53,290.36L617.52,289.34L614.51,288.34L611.50,287.37L608.49,286.42L605.48,285.48L602.47,284.57L599.46,283.68L596.45,282.81L593.44,281.96L590.43,281.13L587.42,280.32L584.42,279.52L581.41,278.75L578.40,278.00L575.39,277.26L572.38,276.54L569.37,275.84L566.36,275.16L563.36,274.49L560.35,273.85L557.34,273.21L554.33,272.60L551.32,272.00L548.32,271.42L545.31,270.85L542.30,270.29L539.29,269.75L536.29,269.23L533.28,268.72L530.27,268.23L527.27,267.74L524.26,267.27L521.25,266.82L518.25,266.38L515.24,265.95L512.23,265.53L509.23,265.12L506.22,264.73L503.21,264.34L500.21,263.97L497.20,263.61L494.20,263.26L491.19,262.92L488.19,262.59L485.18,262.27L482.18,261.96L479.17,261.66L476.17,261.36L473.16,261.08L470.16,260.81L467.15,260.54L464.15,260.29L461.14,260.04L458.14,259.81L455.13,259.58L452.13,259.36L449.12,259.15L446.12,258.94L443.11,258.75L440.11,258.56L437.10,258.38L434.10,258.21L431.09,258.04L428.09,257.89L425.09,257.74L422.08,257.60L419.08,257.46L416.07,257.34L413.07,257.22L410.06,257.10L407.06,257.00L404.06,256.90L401.05,256.80L398.05,256.72L395.05,256.63L392.04,256.56L389.04,256.49L386.04,256.43L383.03,256.37L380.03,256.32L377.02,256.27L374.02,256.23L371.02,256.20L368.02,256.17L365.01,256.14L362.01,256.12L359.01,256.11L356.00,256.10L353.00,256.09L350.00,256.09L347.00,256.09L343.99,256.10L340.99,256.11L337.99,256.12L334.99,256.14L331.98,256.16L328.98,256.19L325.98,256.22L322.98,256.25L319.97,256.29L316.97,256.33L313.97,256.37L310.97,256.41L307.97,256.46L304.97,256.51L301.96,256.57L298.96,256.62L295.96,256.68L292.96,256.74L289.96,256.80L286.96,256.86L283.96,256.93L280.95,257.00L277.95,257.06L274.95,257.13L271.95,257.21L268.95,257.28L265.95,257.35L262.95,257.43L259.95,257.50L256.95,257.58L253.95,257.65L250.95,257.73L247.95,257.81L244.95,257.89L241.95,257.96L238.95,258.04L235.95,258.12L232.95,258.20L229.95,258.27L226.95,258.35L223.95,258.43L220.95,258.50L217.95,258.58L214.95,258.65L211.95,258.72L208.95,258.79L205.95,258.86L202.95,258.93L199.95,259.00L196.96,259.06L193.96,259.13L190.96,259.19L187.96,259.26L184.96,259.31L181.96,259.37L178.96,259.43L175.97,259.48L172.97,259.53L169.97,259.58L166.97,259.62L163.97,259.66L160.98,259.70L157.98,259.73L154.98,259.76L151.98,259.79L148.99,259.82L145.99,259.84L142.99,259.85L139.99,259.86L137.00,259.87L134.00,259.88L131.00,259.88L128.00,259.87L125.01,259.86L122.01,259.85L119.01,259.83L116.02,259.81L113.02,259.78Z" fill="#000" stroke="#000" stroke-width="0.3" stroke-linejoin="round"/>
<path d="M112.89,300.53L115.90,300.67L118.90,300.81L121.91,300.95L124.91,301.08L127.91,301.20L130.92,301.32L133.92,301.44L136.92,301.55L139.93,301.65L142.93,301.75L145.93,301.85L148.94,301.94L151.94,302.03L154.94,302.12L157.94,302.20L160.95,302.27L163.95,302.35L166.95,302.42L169.95,302.48L172.96,302.54L175.96,302.60L178.96,302.66L181.96,302.71L184.97,302.76L187.97,302.81L190.97,302.85L193.97,302.89L196.97,302.93L199.98,302.96L202.98,302.99L205.98,303.02L208.98,303.04L211.98,303.06L214.98,303.08L217.99,303.10L220.99,303.11L223.99,303.13L226.99,303.14L229.99,303.15L232.99,303.15L235.99,303.16L238.99,303.17L242.00,303.17L245.00,303.17L248.00,303.17L251.00,303.17L254.00,303.17L257.00,303.17L260.00,303.16L263.00,303.16L266.00,303.16L269.00,303.15L272.00,303.15L275.00,303.14L278.00,303.13L281.00,303.13L284.00,303.12L287.00,303.11L290.00,303.11L293.00,303.10L296.00,303.09L299.00,303.09L302.00,303.08L305.00,303.08L308.00,303.07L311.00,303.07L314.00,303.06L317.00,303.06L320.00,303.06L323.00,303.06L326.00,303.06L329.00,303.06L331.99,303.07L334.99,303.07L337.99,303.08L340.99,303.09L343.99,303.10L346.99,303.11L349.99,303.12L352.99,303.14L355.99,303.16L358.98,303.17L361.98,303.20L364.98,303.22L367.98,303.25L370.98,303.28L373.98,303.31L376.97,303.34L379.97,303.38L382.97,303.42L385.97,303.46L388.97,303.51L391.97,303.56L394.96,303.61L397.96,303.67L400.96,303.73L403.96,303.79L406.95,303.85L409.95,303.92L412.95,304.00L415.95,304.08L418.94,304.16L421.94,304.24L424.94,304.33L427.94,304.43L430.93,304.53L433.93,304.63L436.93,304.74L439.93,304.85L442.92,304.96L445.92,305.09L448.92,305.21L451.91,305.34L454.91,305.48L457.91,305.62L460.91,305.77L463.90,305.92L466.90,306.08L469.90,306.24L472.89,306.41L475.89,306.58L478.89,306.76L481.88,306.95L484.88,307.14L487.88,307.34L490.87,307.54L493.87,307.75L496.86,307.97L499.86,308.19L502.86,308.42L505.85,308.66L508.85,308.90L511.85,309.15L514.84,309.41L517.84,309.67L520.83,309.94L523.83,310.22L526.83,310.51L529.82,310.80L532.82,311.10L535.81,311.41L538.81,311.73L541.80,312.05L544.80,312.39L547.79,312.73L550.79,313.09L553.78,313.45L556.78,313.83L559.77,314.21L562.77,314.61L565.76,315.02L568.75,315.44L571.75,315.87L574.74,316.31L577.74,316.76L580.73,317.23L583.72,317.71L586.72,318.20L589.71,318.71L592.70,319.22L595.69,319.76L598.69,320.30L601.68,320.86L604.67,321.44L607.67,322.03L610.66,322.63L613.65,323.26L616.64,323.89L619.64,324.54L622.63,325.21L625.62,325.90L628.61,326.60L631.60,327.32L634.60,328.05L637.59,328.81L640.58,329.58L643.57,330.37L646.56,331.18L649.55,332.00L652.54,332.85L655.54,333.72L658.53,334.61L661.52,335.51L664.51,336.44L667.50,337.39L670.49,338.36L673.48,339.35L676.47,340.36L679.46,341.39L682.45,342.44L685.44,343.52L688.43,344.61L691.42,345.73L694.41,346.88L697.40,348.04L700.39,349.23L703.37,350.44L706.36,351.68L709.35,352.94L712.34,354.22L715.33,355.53L718.33,356.86L721.32,358.21L724.31,359.57L727.30,360.96L730.29,362.37L733.29,363.80L736.28,365.24L739.27,366.70L742.27,368.18L745.26,369.67L748.26,371.17L751.25,372.69L754.25,374.22L757.24,375.76L760.24,377.32L763.23,378.88L766.23,380.46L769.23,382.04L772.22,383.63L775.22,385.23L778.22,386.84L781.22,388.45L784.22,390.07L787.21,391.69L790.21,393.32L793.21,394.95L796.21,396.58L799.21,398.21L802.21,399.85L805.21,401.50L808.21,403.14L811.21,404.78L814.21,406.43L817.21,408.08L820.20,409.73L823.20,411.38L826.20,413.03L829.20,414.68L832.20,416.33L835.21,417.98L838.21,419.63L841.21,421.28L844.21,422.93L847.21,424.57L850.21,426.21L853.21,427.85L856.21,429.48L859.21,431.11L862.22,432.74L865.22,434.35L868.22,435.97L871.22,437.57L874.23,439.17L877.23,440.75L880.23,442.33L883.24,443.90L886.24,445.46L889.25,447.01L892.25,448.54L895.26,450.07L898.26,451.58L901.27,453.07L904.27,454.56L907.28,456.02L910.29,457.48L913.29,458.91L916.30,460.33L919.31,461.73L922.31,463.12L925.32,464.48L928.33,465.83L931.34,467.16L934.35,468.46L937.36,469.74L940.37,471.00L943.38,472.24L946.39,473.45L949.40,474.64L952.41,475.80L955.42,476.94L958.44,478.04L961.45,479.12L964.46,480.18L964.97,480.35L966.03,477.23L965.54,477.06L962.55,476.01L959.56,474.94L956.58,473.84L953.59,472.72L950.60,471.56L947.61,470.39L944.62,469.18L941.63,467.95L938.64,466.70L935.65,465.43L932.66,464.13L929.67,462.81L926.68,461.48L923.69,460.12L920.69,458.74L917.70,457.35L914.71,455.93L911.71,454.50L908.72,453.06L905.73,451.59L902.73,450.12L899.74,448.63L896.74,447.12L893.75,445.60L890.75,444.07L887.76,442.53L884.76,440.97L881.77,439.41L878.77,437.83L875.77,436.25L872.78,434.66L869.78,433.06L866.78,431.45L863.78,429.83L860.79,428.21L857.79,426.58L854.79,424.95L851.79,423.32L848.79,421.68L845.79,420.03L842.79,418.39L839.79,416.74L836.79,415.09L833.80,413.44L830.80,411.79L827.80,410.14L824.80,408.49L821.80,406.84L818.79,405.19L815.79,403.54L812.79,401.89L809.79,400.25L806.79,398.60L803.79,396.96L800.79,395.32L797.79,393.68L794.79,392.05L791.79,390.42L788.79,388.79L785.78,387.17L782.78,385.55L779.78,383.93L776.78,382.32L773.78,380.72L770.77,379.13L767.77,377.54L764.77,375.96L761.76,374.39L758.76,372.83L755.75,371.28L752.75,369.75L749.74,368.23L746.74,366.72L743.73,365.22L740.73,363.74L737.72,362.27L734.71,360.82L731.71,359.39L728.70,357.97L725.69,356.58L722.68,355.20L719.67,353.84L716.67,352.51L713.66,351.19L710.65,349.90L707.64,348.63L704.63,347.39L701.61,346.17L698.60,344.97L695.59,343.80L692.58,342.65L689.57,341.52L686.56,340.41L683.55,339.33L680.54,338.27L677.53,337.23L674.52,336.22L671.51,335.22L668.50,334.25L665.49,333.29L662.48,332.36L659.47,331.45L656.46,330.55L653.46,329.68L650.45,328.83L647.44,327.99L644.43,327.17L641.42,326.37L638.41,325.58L635.40,324.82L632.40,324.07L629.39,323.34L626.38,322.63L623.37,321.94L620.36,321.26L617.36,320.59L614.35,319.95L611.34,319.32L608.33,318.70L605.33,318.10L602.32,317.52L599.31,316.95L596.31,316.39L593.30,315.85L590.29,315.32L587.28,314.81L584.28,314.31L581.27,313.82L578.26,313.34L575.26,312.88L572.25,312.43L569.25,311.99L566.24,311.56L563.23,311.15L560.23,310.74L557.22,310.35L554.22,309.97L551.21,309.59L548.21,309.23L545.20,308.88L542.20,308.53L539.19,308.20L536.19,307.87L533.18,307.56L530.18,307.25L527.17,306.95L524.17,306.66L521.17,306.37L518.16,306.09L515.16,305.82L512.15,305.56L509.15,305.30L506.15,305.05L503.14,304.81L500.14,304.57L497.14,304.34L494.13,304.12L491.13,303.90L488.12,303.69L485.12,303.48L482.12,303.28L479.11,303.09L476.11,302.90L473.11,302.72L470.10,302.55L467.10,302.38L464.10,302.21L461.09,302.05L458.09,301.90L455.09,301.75L452.09,301.61L449.08,301.47L446.08,301.34L443.08,301.21L440.07,301.08L437.07,300.96L434.07,300.85L431.07,300.74L428.06,300.64L425.06,300.53L422.06,300.44L419.06,300.35L416.05,300.26L413.05,300.17L410.05,300.09L407.05,300.02L404.04,299.94L401.04,299.87L398.04,299.81L395.04,299.74L392.03,299.69L389.03,299.63L386.03,299.58L383.03,299.53L380.03,299.48L377.03,299.44L374.02,299.40L371.02,299.36L368.02,299.32L365.02,299.29L362.02,299.26L359.02,299.23L356.01,299.20L353.01,299.18L350.01,299.16L347.01,299.14L344.01,299.12L341.01,299.10L338.01,299.09L335.01,299.07L332.01,299.06L329.00,299.05L326.00,299.04L323.00,299.03L320.00,299.03L317.00,299.02L314.00,299.02L311.00,299.01L308.00,299.01L305.00,299.01L302.00,299.01L299.00,299.01L296.00,299.01L293.00,299.01L290.00,299.01L287.00,299.01L284.00,299.01L281.00,299.01L278.00,299.01L275.00,299.01L272.00,299.01L269.00,299.00L266.00,299.00L263.00,299.00L260.00,299.00L257.00,298.99L254.00,298.99L251.00,298.98L248.00,298.98L245.00,298.97L242.00,298.96L239.01,298.95L236.01,298.94L233.01,298.93L230.01,298.91L227.01,298.90L224.01,298.88L221.01,298.86L218.01,298.84L215.02,298.81L212.02,298.79L209.02,298.76L206.02,298.73L203.02,298.70L200.02,298.66L197.03,298.63L194.03,298.59L191.03,298.55L188.03,298.51L185.03,298.46L182.04,298.41L179.04,298.36L176.04,298.30L173.04,298.24L170.05,298.18L167.05,298.12L164.05,298.05L161.05,297.98L158.06,297.90L155.06,297.82L152.06,297.73L149.06,297.65L146.07,297.55L143.07,297.46L140.07,297.35L137.08,297.25L134.08,297.14L131.08,297.02L128.09,296.90L125.09,296.78L122.09,296.65L119.10,296.52L116.10,296.38L113.11,296.23Z" fill="#000" stroke="#000" stroke-width="0.3" stroke-linejoin="round"/>
<path d="M112.90,334.99L115.90,335.14L118.90,335.29L121.91,335.44L124.91,335.58L127.91,335.72L130.92,335.85L133.92,335.98L136.92,336.11L139.92,336.23L142.93,336.34L145.93,336.46L148.93,336.56L151.93,336.67L154.94,336.77L157.94,336.87L160.94,336.96L163.94,337.05L166.94,337.14L169.95,337.22L172.95,337.30L175.95,337.38L178.95,337.45L181.96,337.53L184.96,337.59L187.96,337.66L190.96,337.72L193.96,337.78L196.96,337.84L199.97,337.89L202.97,337.94L205.97,337.98L208.97,338.03L211.97,338.07L214.97,338.11L217.98,338.14L220.98,338.18L223.98,338.21L226.98,338.24L229.98,338.26L232.98,338.29L235.98,338.31L238.99,338.34L241.99,338.36L244.99,338.37L247.99,338.39L250.99,338.41L253.99,338.42L256.99,338.43L259.99,338.44L262.99,338.45L265.99,338.46L268.99,338.47L272.00,338.47L275.00,338.48L278.00,338.48L281.00,338.49L284.00,338.49L287.00,338.49L290.00,338.49L293.00,338.49L296.00,338.49L299.00,338.49L302.00,338.49L305.00,338.48L308.00,338.48L311.00,338.48L314.00,338.48L317.00,338.47L320.00,338.47L323.00,338.47L326.00,338.47L329.00,338.46L332.00,338.46L335.00,338.46L338.00,338.46L341.00,338.46L344.00,338.46L347.00,338.46L350.00,338.46L353.00,338.46L356.00,338.46L359.00,338.46L362.00,338.47L365.00,338.47L367.99,338.48L370.99,338.48L373.99,338.49L376.99,338.50L379.99,338.51L382.99,338.52L385.99,338.54L388.99,338.55L391.99,338.57L394.99,338.58L397.99,338.60L400.99,338.63L403.98,338.65L406.98,338.67L409.98,338.70L412.98,338.73L415.98,338.76L418.98,338.79L421.98,338.83L424.98,338.87L427.97,338.91L430.97,338.95L433.97,339.00L436.97,339.04L439.97,339.09L442.97,339.15L445.97,339.20L448.96,339.26L451.96,339.32L454.96,339.39L457.96,339.46L460.96,339.53L463.95,339.60L466.95,339.68L469.95,339.76L472.95,339.84L475.95,339.93L478.95,340.02L481.94,340.11L484.94,340.21L487.94,340.31L490.94,340.42L493.93,340.53L496.93,340.64L499.93,340.76L502.93,340.88L505.93,341.00L508.92,341.13L511.92,341.27L514.92,341.40L517.92,341.55L520.91,341.69L523.91,341.84L526.91,342.00L529.91,342.16L532.90,342.33L535.90,342.49L538.90,342.67L541.90,342.85L544.89,343.03L547.89,343.22L550.89,343.42L553.88,343.62L556.88,343.83L559.88,344.04L562.87,344.26L565.87,344.49L568.87,344.73L571.86,344.97L574.86,345.22L577.85,345.48L580.85,345.75L583.84,346.03L586.84,346.31L589.83,346.61L592.83,346.91L595.82,347.22L598.82,347.55L601.81,347.88L604.81,348.23L607.80,348.58L610.80,348.95L613.79,349.33L616.79,349.72L619.78,350.12L622.77,350.54L625.77,350.97L628.76,351.41L631.75,351.86L634.75,352.33L637.74,352.81L640.73,353.31L643.73,353.82L646.72,354.34L649.71,354.88L652.70,355.43L655.70,356.01L658.69,356.59L661.68,357.20L664.67,357.82L667.66,358.45L670.65,359.10L673.65,359.77L676.64,360.46L679.63,361.17L682.62,361.89L685.61,362.63L688.60,363.39L691.59,364.17L694.58,364.96L697.57,365.78L700.56,366.62L703.56,367.47L706.55,368.35L709.54,369.25L712.53,370.16L715.52,371.10L718.51,372.06L721.50,373.04L724.49,374.04L727.48,375.07L730.47,376.11L733.46,377.17L736.45,378.26L739.44,379.36L742.43,380.48L745.43,381.62L748.42,382.77L751.41,383.95L754.40,385.14L757.40,386.35L760.39,387.57L763.39,388.81L766.38,390.06L769.37,391.33L772.37,392.61L775.36,393.91L778.36,395.22L781.35,396.54L784.35,397.87L787.34,399.22L790.34,400.58L793.33,401.95L796.33,403.33L799.33,404.71L802.32,406.11L805.32,407.52L808.31,408.94L811.31,410.36L814.31,411.80L817.31,413.24L820.30,414.68L823.30,416.13L826.30,417.59L829.30,419.06L832.29,420.53L835.29,422.00L838.29,423.48L841.29,424.96L844.29,426.45L847.29,427.94L850.29,429.43L853.29,430.92L856.29,432.41L859.29,433.91L862.29,435.40L865.29,436.90L868.29,438.39L871.29,439.89L874.29,441.38L877.29,442.87L880.29,444.36L883.29,445.85L886.29,447.33L889.29,448.81L892.30,450.28L895.30,451.75L898.30,453.22L901.30,454.68L904.30,456.14L907.31,457.58L910.31,459.03L913.31,460.46L916.32,461.89L919.32,463.31L922.32,464.72L925.33,466.12L928.33,467.51L931.33,468.89L934.34,470.26L937.34,471.62L940.35,472.97L943.35,474.31L946.36,475.63L949.36,476.94L952.37,478.24L955.37,479.53L958.38,480.80L961.39,482.06L964.39,483.30L964.89,483.50L966.11,480.54L965.61,480.34L962.61,479.10L959.62,477.85L956.63,476.58L953.63,475.30L950.64,474.01L947.64,472.70L944.65,471.38L941.65,470.05L938.66,468.70L935.66,467.35L932.67,465.98L929.67,464.60L926.67,463.21L923.68,461.82L920.68,460.41L917.68,459.00L914.69,457.57L911.69,456.14L908.69,454.70L905.70,453.26L902.70,451.80L899.70,450.34L896.70,448.88L893.70,447.41L890.71,445.94L887.71,444.46L884.71,442.98L881.71,441.49L878.71,440.01L875.71,438.52L872.71,437.02L869.71,435.53L866.71,434.03L863.71,432.54L860.71,431.04L857.71,429.55L854.71,428.05L851.71,426.56L848.71,425.07L845.71,423.58L842.71,422.10L839.71,420.61L836.71,419.13L833.71,417.66L830.70,416.18L827.70,414.72L824.70,413.26L821.70,411.80L818.69,410.35L815.69,408.91L812.69,407.47L809.69,406.05L806.68,404.63L803.68,403.22L800.67,401.81L797.67,400.42L794.67,399.04L791.66,397.67L788.66,396.30L785.65,394.95L782.65,393.61L779.64,392.29L776.64,390.97L773.63,389.67L770.63,388.39L767.62,387.11L764.61,385.85L761.61,384.61L758.60,383.38L755.60,382.17L752.59,380.97L749.58,379.79L746.57,378.63L743.57,377.48L740.56,376.36L737.55,375.25L734.54,374.16L731.53,373.09L728.52,372.04L725.51,371.01L722.50,370.00L719.49,369.02L716.48,368.05L713.47,367.11L710.46,366.18L707.45,365.28L704.44,364.40L701.44,363.54L698.43,362.70L695.42,361.88L692.41,361.07L689.40,360.29L686.39,359.53L683.38,358.78L680.37,358.05L677.36,357.34L674.35,356.65L671.35,355.98L668.34,355.32L665.33,354.68L662.32,354.06L659.31,353.45L656.30,352.86L653.30,352.29L650.29,351.73L647.28,351.18L644.27,350.65L641.27,350.14L638.26,349.63L635.25,349.15L632.25,348.67L629.24,348.21L626.23,347.76L623.23,347.33L620.22,346.91L617.21,346.50L614.21,346.10L611.20,345.72L608.20,345.34L605.19,344.98L602.19,344.63L599.18,344.29L596.18,343.96L593.17,343.64L590.17,343.33L587.16,343.03L584.16,342.74L581.15,342.46L578.15,342.18L575.14,341.92L572.14,341.66L569.13,341.41L566.13,341.17L563.13,340.94L560.12,340.71L557.12,340.49L554.12,340.28L551.11,340.07L548.11,339.87L545.11,339.68L542.10,339.49L539.10,339.30L536.10,339.12L533.10,338.95L530.09,338.78L527.09,338.61L524.09,338.45L521.09,338.30L518.08,338.14L515.08,338.00L512.08,337.85L509.08,337.72L506.07,337.58L503.07,337.45L500.07,337.33L497.07,337.20L494.07,337.09L491.06,336.97L488.06,336.86L485.06,336.76L482.06,336.65L479.05,336.55L476.05,336.46L473.05,336.37L470.05,336.28L467.05,336.19L464.05,336.11L461.04,336.03L458.04,335.96L455.04,335.89L452.04,335.82L449.04,335.75L446.03,335.69L443.03,335.63L440.03,335.57L437.03,335.51L434.03,335.46L431.03,335.41L428.03,335.36L425.02,335.32L422.02,335.28L419.02,335.24L416.02,335.20L413.02,335.16L410.02,335.13L407.02,335.10L404.02,335.07L401.01,335.04L398.01,335.01L395.01,334.99L392.01,334.96L389.01,334.94L386.01,334.92L383.01,334.91L380.01,334.89L377.01,334.88L374.01,334.86L371.01,334.85L368.01,334.84L365.00,334.83L362.00,334.82L359.00,334.81L356.00,334.80L353.00,334.80L350.00,334.79L347.00,334.78L344.00,334.78L341.00,334.78L338.00,334.77L335.00,334.77L332.00,334.77L329.00,334.76L326.00,334.76L323.00,334.76L320.00,334.76L317.00,334.76L314.00,334.75L311.00,334.75L308.00,334.75L305.00,334.75L302.00,334.74L299.00,334.74L296.00,334.74L293.00,334.73L290.00,334.73L287.00,334.72L284.00,334.72L281.00,334.71L278.00,334.70L275.00,334.69L272.00,334.69L269.01,334.67L266.01,334.66L263.01,334.65L260.01,334.64L257.01,334.62L254.01,334.60L251.01,334.59L248.01,334.57L245.01,334.54L242.01,334.52L239.01,334.50L236.02,334.47L233.02,334.44L230.02,334.41L227.02,334.38L224.02,334.35L221.02,334.31L218.02,334.27L215.03,334.23L212.03,334.19L209.03,334.14L206.03,334.09L203.03,334.04L200.03,333.99L197.04,333.94L194.04,333.88L191.04,333.82L188.04,333.76L185.04,333.69L182.04,333.63L179.05,333.56L176.05,333.48L173.05,333.41L170.05,333.33L167.06,333.24L164.06,333.15L161.06,333.06L158.06,332.97L155.06,332.87L152.07,332.77L149.07,332.67L146.07,332.56L143.07,332.45L140.08,332.33L137.08,332.21L134.08,332.08L131.08,331.96L128.09,331.82L125.09,331.69L122.09,331.55L119.10,331.40L116.10,331.25L113.10,331.09Z" fill="#000" stroke="#000" stroke-width="0.3" stroke-linejoin="round"/>
<path d="M586.3,97.0L546.2,127.9" stroke="#000" stroke-width="2.3" stroke-linecap="round"/>
<path d="M534.1,136.9L540.4,121.7L552.0,134.1Z" fill="#000" stroke="#000" stroke-width="0.6" stroke-linejoin="round"/>
<path d="M417.1,168.1L378.1,198.2" stroke="#000" stroke-width="2.3" stroke-linecap="round"/>
<path d="M366.7,207.1L372.8,192.7L383.3,203.8Z" fill="#000" stroke="#000" stroke-width="0.6" stroke-linejoin="round"/>
<path d="M280.6,193.6L238.1,225.3" stroke="#000" stroke-width="1.9" stroke-linecap="round"/>
<path d="M226.3,233.5L232.7,219.6L243.4,231.0Z" fill="#000" stroke="#000" stroke-width="0.6" stroke-linejoin="round"/>
<path d="M366.2,387.3L290.2,275.3" stroke="#000" stroke-width="1.9" stroke-linecap="round"/>
<path d="M281.9,263.1L283.1,279.7L297.3,270.9Z" fill="#000" stroke="#000" stroke-width="0.6" stroke-linejoin="round"/>
<path d="M474.9,391.4L443.8,322.6" stroke="#000" stroke-width="2.0" stroke-linecap="round"/>
<path d="M437.0,308.0L436.3,326.2L451.3,319.1Z" fill="#000" stroke="#000" stroke-width="0.6" stroke-linejoin="round"/>
<path d="M571.0,392.7L541.0,353.0" stroke="#000" stroke-width="2.3" stroke-linecap="round"/>
<path d="M532.2,342.8L534.4,357.2L547.7,348.9Z" fill="#000" stroke="#000" stroke-width="0.6" stroke-linejoin="round"/>
<defs><clipPath id="ylc" clipPathUnits="userSpaceOnUse"><path clip-rule="evenodd" d="M40,0H105V631H40Z M49,19.40H53.85V24.50H49Z M56.42,19.40H63V24.50H56.42Z M49,77.30H53.85V82.40H49Z M56.42,77.30H63V82.40H56.42Z M49,135.90H53.85V141.00H49Z M56.42,135.90H63V141.00H56.42Z M49,193.40H53.85V198.50H49Z M56.42,193.40H63V198.50H56.42Z M49,252.90H53.85V258.00H49Z M56.42,252.90H63V258.00H56.42Z"/></clipPath></defs>
<g clip-path="url(#ylc)">
<text x="47.2 63.4 74.0" y="23.3" font-family="'Liberation Sans', Arial, sans-serif" font-size="27" stroke="#000" stroke-width="0.35">1.8</text>
<text x="47.2 63.4 74.0" y="81.2" font-family="'Liberation Sans', Arial, sans-serif" font-size="27" stroke="#000" stroke-width="0.35">1.6</text>
<text x="47.2 63.4 74.0" y="139.8" font-family="'Liberation Sans', Arial, sans-serif" font-size="27" stroke="#000" stroke-width="0.35">1.4</text>
<text x="47.2 63.4 74.0" y="197.3" font-family="'Liberation Sans', Arial, sans-serif" font-size="27" stroke="#000" stroke-width="0.35">1.2</text>
<text x="47.2 63.4 74.0" y="256.8" font-family="'Liberation Sans', Arial, sans-serif" font-size="27" stroke="#000" stroke-width="0.35">1.0</text>
<text x="47.2 63.4 74.0" y="315.8" font-family="'Liberation Sans', Arial, sans-serif" font-size="27" stroke="#000" stroke-width="0.35">0.8</text>
<text x="47.2 63.4 74.0" y="374.2" font-family="'Liberation Sans', Arial, sans-serif" font-size="27" stroke="#000" stroke-width="0.35">0.6</text>
<text x="47.2 63.4 74.0" y="431.9" font-family="'Liberation Sans', Arial, sans-serif" font-size="27" stroke="#000" stroke-width="0.35">0.4</text>
<text x="47.2 63.4 74.0" y="490.2" font-family="'Liberation Sans', Arial, sans-serif" font-size="27" stroke="#000" stroke-width="0.35">0.2</text>
<text x="47.2 63.4 74.0" y="549.9" font-family="'Liberation Sans', Arial, sans-serif" font-size="27" stroke="#000" stroke-width="0.35">0.0</text>
</g>
<text font-family="'Liberation Serif', 'Times New Roman', serif" font-weight="bold"><tspan x="110.8" y="586.0" font-size="29.3">10</tspan><tspan x="139.2" y="577.0" font-size="18.5">16</tspan></text>
<text font-family="'Liberation Serif', 'Times New Roman', serif" font-weight="bold"><tspan x="304.7" y="586.0" font-size="29.3">10</tspan><tspan x="334.6" y="577.0" font-size="18.5">17</tspan></text>
<text font-family="'Liberation Serif', 'Times New Roman', serif" font-weight="bold"><tspan x="521.3" y="586.0" font-size="29.3">10</tspan><tspan x="550.0" y="577.0" font-size="18.5">18</tspan></text>
<text font-family="'Liberation Serif', 'Times New Roman', serif" font-weight="bold"><tspan x="733.2" y="586.0" font-size="29.3">10</tspan><tspan x="764.0" y="577.0" font-size="18.5">19</tspan></text>
<text font-family="'Liberation Serif', 'Times New Roman', serif" font-weight="bold"><tspan x="941.5" y="586.0" font-size="29.3">10</tspan><tspan x="972.0" y="577.0" font-size="18.5">20</tspan></text>
<text font-family="'Liberation Serif', 'Times New Roman', serif" font-weight="bold"><tspan x="520.9" y="624.0" font-size="31">N/cm</tspan><tspan x="592.6" y="614.0" font-size="20.5">-3</tspan></text>
<text transform="translate(29.1,333.6) rotate(-90) scale(1.04,1)" font-family="'Liberation Serif', 'Times New Roman', serif" font-weight="bold" font-size="31">P(N,T)</text>
<path d="M34.3,287V303" stroke="#000" stroke-width="1.3"/>
<text transform="translate(724.7,62.8) scale(1.07,1)" font-family="'Liberation Serif', 'Times New Roman', serif" font-weight="bold" font-size="29.5">P(N,T) for P-Si</text>
<text y="106.2" font-family="'Liberation Serif', 'Noto Serif CJK SC', serif" font-size="29" stroke="#000" stroke-width="0.45"><tspan x="592.6 607.4 622.0">−75</tspan><tspan x="640.3" font-family="'DejaVu Serif', 'Noto Serif CJK SC', serif" font-size="27.5" stroke-width="0.3" textLength="26.46" lengthAdjust="spacingAndGlyphs">℃</tspan></text>
<text y="172.4" font-family="'Liberation Serif', 'Noto Serif CJK SC', serif" font-size="29" stroke="#000" stroke-width="0.45"><tspan x="413.9 429.6 444.4">−25</tspan><tspan x="459.5" font-family="'DejaVu Serif', 'Noto Serif CJK SC', serif" font-size="27.5" stroke-width="0.3" textLength="26.46" lengthAdjust="spacingAndGlyphs">℃</tspan></text>
<text y="190.3" font-family="'Liberation Serif', 'Noto Serif CJK SC', serif" font-size="29" stroke="#000" stroke-width="0.45"><tspan x="270.1">0</tspan><tspan x="286.3" font-family="'DejaVu Serif', 'Noto Serif CJK SC', serif" font-size="27.5" stroke-width="0.3" textLength="26.46" lengthAdjust="spacingAndGlyphs">℃</tspan></text>
<text y="415.4" font-family="'Liberation Serif', 'Noto Serif CJK SC', serif" font-size="29" stroke="#000" stroke-width="0.45"><tspan x="306.2 319.8">25</tspan><tspan x="333.9" font-family="'DejaVu Serif', 'Noto Serif CJK SC', serif" font-size="27.5" stroke-width="0.3" textLength="26.46" lengthAdjust="spacingAndGlyphs">℃</tspan></text>
<text y="415.4" font-family="'Liberation Serif', 'Noto Serif CJK SC', serif" font-size="29" stroke="#000" stroke-width="0.45"><tspan x="436.6 453.8">75</tspan><tspan x="466.9" font-family="'DejaVu Serif', 'Noto Serif CJK SC', serif" font-size="27.5" stroke-width="0.3" textLength="26.46" lengthAdjust="spacingAndGlyphs">℃</tspan></text>
<text y="414.9" font-family="'Liberation Serif', 'Noto Serif CJK SC', serif" font-size="29" stroke="#000" stroke-width="0.45"><tspan x="551.9 565.8 581.4">150</tspan><tspan x="596.9" font-family="'DejaVu Serif', 'Noto Serif CJK SC', serif" font-size="27.5" stroke-width="0.3" textLength="26.46" lengthAdjust="spacingAndGlyphs">℃</tspan></text>
</svg>
</body></html>
